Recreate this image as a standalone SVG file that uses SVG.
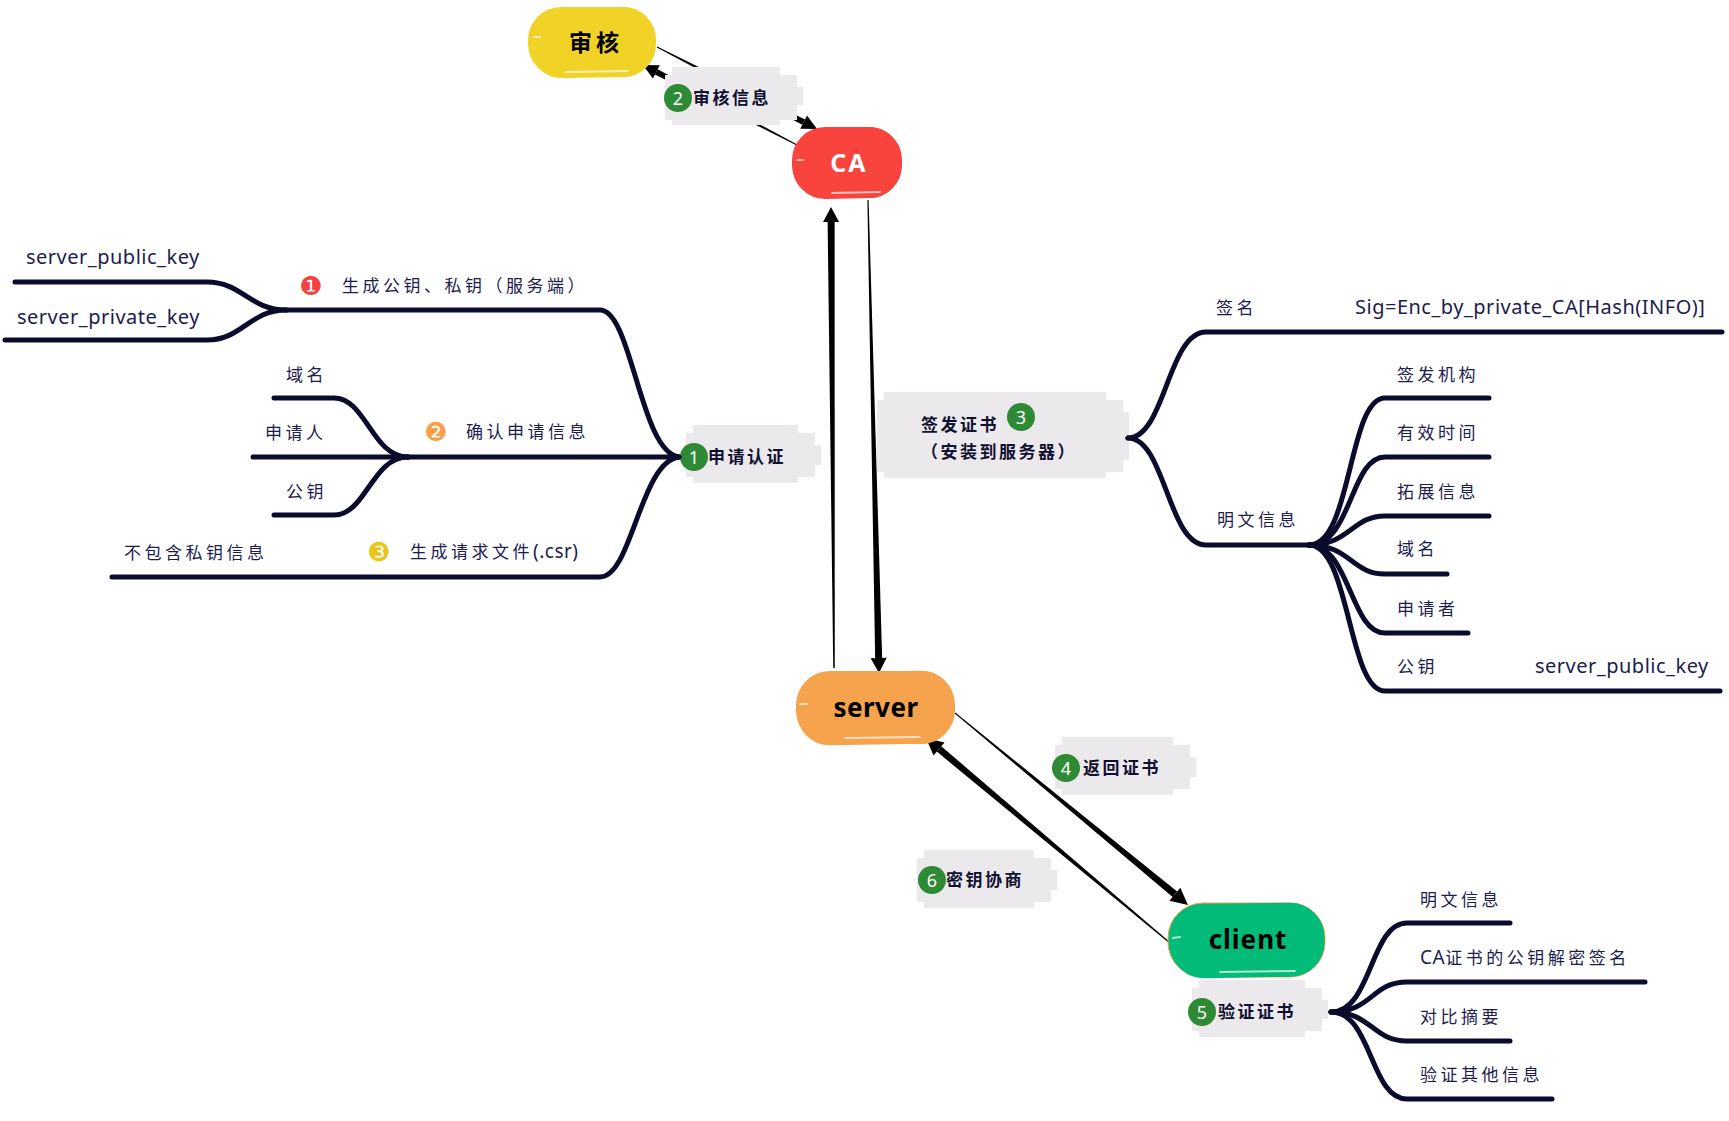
<svg xmlns="http://www.w3.org/2000/svg" width="1729" height="1121" viewBox="0 0 1729 1121">
<defs>
<style>
.mm{fill:none;stroke:#0b0b2c;stroke-width:5;stroke-linecap:round;stroke-linejoin:round}
.t{font-family:'Noto Sans','Noto Sans CJK SC',sans-serif;font-size:17px;fill:#1c1c4e;letter-spacing:3.5px}
.tl{font-family:'Noto Sans','Noto Sans CJK SC',sans-serif;font-size:20px;fill:#1c1c4e;letter-spacing:0.5px}
.lb{fill:#ebe9ec}
.lt{font-family:'Noto Sans CJK SC',sans-serif;font-size:17px;font-weight:bold;fill:#101030;letter-spacing:2.5px}
.bd{fill:#2f8a36}
.bt{font-family:'Noto Sans',sans-serif;font-size:18px;fill:#fff;text-anchor:middle}
.ar{fill:#000}
.nt{font-family:'Noto Sans','Noto Sans CJK SC',sans-serif;font-weight:bold;text-anchor:middle}
.dg{font-family:'DejaVu Sans',sans-serif;font-size:26px;text-anchor:middle}
.hl{fill:none;stroke:#fff;stroke-width:2;stroke-linecap:round;opacity:0.65}
.tight{letter-spacing:0.5px;font-size:19px}
</style>
</defs>

<g id="connectors">
<polygon class="ar" points="656.77,47.45 802.28,124.83 805.02,119.49 657.23,46.55"/>
<polygon class="ar" points="817,129 800.23,128.83 807.07,115.49"/>
<polygon class="ar" points="797.23,144.56 657.69,69.26 654.93,74.58 796.77,145.44"/>
<polygon class="ar" points="643,65 659.77,65.26 652.85,78.58"/>
<polygon class="ar" points="834.75,668 834.6,222 827.6,222 833.25,668"/>
<polygon class="ar" points="831,207 839.1,222 823.1,222"/>
<polygon class="ar" points="867.4,200 875.15,658.1 882.15,657.9 868.6,200"/>
<polygon class="ar" points="879,673 870.65,658.2 886.65,657.8"/>
<polygon class="ar" points="954.68,713.39 1172.65,896.89 1177.11,891.49 955.32,712.61"/>
<polygon class="ar" points="1188,905 1169.47,900.75 1180.29,887.63"/>
<polygon class="ar" points="1170.39,942.54 941.27,746.25 936.77,751.61 1169.61,943.46"/>
<polygon class="ar" points="926,738 944.49,742.42 933.55,755.44"/>
</g>

<g id="node-shenhe">
<rect x="528" y="7" width="128" height="70" rx="33" fill="#f0d326"/>
<rect x="531" y="9" width="123" height="67" rx="31" fill="none" stroke="#f0d326" stroke-width="3" transform="rotate(-1 592 42)"/>
<path class="hl" d="M566 72 L628 71"/>
<path class="hl" d="M534 37 L540 37"/>
<text class="nt" x="596" y="51" font-size="23" letter-spacing="4" fill="#000">审核</text>
</g>

<g id="node-ca">
<rect x="792" y="127" width="110" height="71" rx="33" fill="#f9443e"/>
<rect x="794" y="129" width="106" height="68" rx="31" fill="none" stroke="#f9443e" stroke-width="3" transform="rotate(-1 847 162)"/>
<path class="hl" d="M832 193 L880 192"/>
<path class="hl" d="M797 160 L803 160"/>
<text class="nt" x="849" y="172" font-size="25" letter-spacing="2" fill="#fff">CA</text>
</g>

<g id="node-server">
<rect x="796" y="671" width="159" height="73" rx="34" fill="#f5a34c"/>
<rect x="798" y="673" width="155" height="70" rx="32" fill="none" stroke="#f5a34c" stroke-width="3" transform="rotate(-1 875 707)"/>
<path class="hl" d="M845 738 L920 737"/>
<path class="hl" d="M800 704 L807 704"/>
<text class="nt" x="876" y="717" font-size="26" letter-spacing="0.5" fill="#000">server</text>
</g>

<g id="node-client">
<rect x="1168" y="903" width="157" height="74" rx="35" fill="#03bb78" stroke="#f5a34c" stroke-width="1"/>
<rect x="1171" y="905" width="152" height="71" rx="33" fill="none" stroke="#03bb78" stroke-width="3" transform="rotate(-1 1246 940)"/>
<path class="hl" d="M1220 972 L1295 971"/>
<path class="hl" d="M1173 938 L1180 937"/>
<text class="nt" x="1248" y="949" font-size="26" letter-spacing="1" fill="#000">client</text>
</g>

<g id="label-shenhexinxi">
<rect class="lb" x="672" y="67" width="108" height="58"/>
<rect class="lb" x="665" y="75" width="132" height="45"/>
<rect class="lb" x="668" y="87" width="135" height="18"/>
<circle class="bd" cx="678" cy="98" r="14"/>
<text class="bt" x="678" y="104.5">2</text>
<text class="lt" x="693" y="104">审核信息</text>
</g>

<g id="label-shenqingrenzheng">
<rect class="lb" x="693" y="425" width="105" height="58"/>
<rect class="lb" x="686" y="433" width="129" height="44"/>
<rect class="lb" x="689" y="445" width="132" height="20"/>
<circle class="bd" cx="694" cy="457" r="14"/>
<text class="bt" x="694" y="463.5">1</text>
<text class="lt" x="708" y="463">申请认证</text>
</g>

<g id="label-qianfazhengshu">
<rect class="lb" x="884" y="392" width="222" height="86"/>
<rect class="lb" x="877" y="400" width="246" height="72"/>
<rect class="lb" x="880" y="412" width="249" height="48"/>
<text class="lt" x="921" y="431">签发证书</text>
<circle class="bd" cx="1021" cy="417" r="14"/>
<text class="bt" x="1021" y="423.5">3</text>
<text class="lt" x="921" y="458">（安装到服务器）</text>
</g>

<g id="label-fanhuizhengshu">
<rect class="lb" x="1062" y="737" width="111" height="58"/>
<rect class="lb" x="1055" y="745" width="135" height="44"/>
<rect class="lb" x="1058" y="757" width="138" height="20"/>
<circle class="bd" cx="1066" cy="768" r="14"/>
<text class="bt" x="1066" y="774.5">4</text>
<text class="lt" x="1083" y="774">返回证书</text>
</g>

<g id="label-miyaoxieshang">
<rect class="lb" x="924" y="850" width="110" height="58"/>
<rect class="lb" x="917" y="858" width="134" height="44"/>
<rect class="lb" x="920" y="870" width="137" height="20"/>
<circle class="bd" cx="932" cy="880" r="14"/>
<text class="bt" x="932" y="886.5">6</text>
<text class="lt" x="946" y="886">密钥协商</text>
</g>

<g id="label-yanzhengzhengshu">
<rect class="lb" x="1199" y="980" width="106" height="57"/>
<rect class="lb" x="1192" y="988" width="130" height="43"/>
<rect class="lb" x="1195" y="1000" width="133" height="19"/>
<circle class="bd" cx="1202" cy="1012" r="14"/>
<text class="bt" x="1202" y="1018.5">5</text>
<text class="lt" x="1218" y="1018">验证证书</text>
</g>

<g id="tree-left">
<path class="mm" d="M679,457 C640,452 632,310 600,310 H286"/>
<path class="mm" d="M286,310 C250,310 242,282 207,282 H15"/>
<path class="mm" d="M286,310 C250,310 242,340 207,340 H5"/>
<path class="mm" d="M679,457 H408"/>
<path class="mm" d="M408,457 C372,457 366,398 334,398 H274"/>
<path class="mm" d="M408,457 H253"/>
<path class="mm" d="M408,457 C372,457 366,515 334,515 H274"/>
<path class="mm" d="M679,457 C640,462 632,577 600,577 H112"/>
<text class="tl" x="26" y="264">server_public_key</text>
<text class="tl" x="17" y="324">server_private_key</text>
<text class="dg" x="311" y="295" fill="#f2433f">❶</text>
<text class="t" x="342" y="292">生成公钥、私钥（服务端）</text>
<text class="dg" x="436" y="441" fill="#f6a04b">❷</text>
<text class="t" x="466" y="438">确认申请信息</text>
<text class="t" x="286" y="381">域名</text>
<text class="t" x="265" y="439">申请人</text>
<text class="t" x="286" y="498">公钥</text>
<text class="dg" x="379" y="561" fill="#e8c51a">❸</text>
<text class="t" x="410" y="558">生成请求文件<tspan class="tight">(.csr)</tspan></text>
<text class="t" x="124" y="559">不包含私钥信息</text>
</g>

<g id="tree-right">
<path class="mm" d="M1128,438 C1165,438 1168,332 1206,332 H1722"/>
<path class="mm" d="M1128,438 C1165,438 1168,545 1206,545 H1309"/>
<path class="mm" d="M1309,545 C1352,545 1348,398 1385,398 H1489"/>
<path class="mm" d="M1309,545 C1352,545 1350,457 1385,457 H1489"/>
<path class="mm" d="M1309,545 C1350,545 1352,516 1385,516 H1489"/>
<path class="mm" d="M1309,545 C1350,545 1352,574 1385,574 H1447"/>
<path class="mm" d="M1309,545 C1350,545 1350,633 1385,633 H1468"/>
<path class="mm" d="M1309,545 C1350,545 1348,691 1385,691 H1720"/>
<text class="t" x="1216" y="314">签名</text>
<text class="tl" x="1355" y="314">Sig=Enc_by_private_CA[Hash(INFO)]</text>
<text class="t" x="1217" y="526">明文信息</text>
<text class="t" x="1397" y="381">签发机构</text>
<text class="t" x="1397" y="439">有效时间</text>
<text class="t" x="1397" y="498">拓展信息</text>
<text class="t" x="1397" y="555">域名</text>
<text class="t" x="1397" y="615">申请者</text>
<text class="t" x="1397" y="673">公钥</text>
<text class="tl" x="1535" y="673">server_public_key</text>
</g>

<g id="tree-client">
<path class="mm" d="M1331,1012 C1372,1012 1370,923 1407,923 H1510"/>
<path class="mm" d="M1331,1012 C1372,1012 1372,982 1407,982 H1645"/>
<path class="mm" d="M1331,1012 C1372,1012 1372,1041 1407,1041 H1510"/>
<path class="mm" d="M1331,1012 C1372,1012 1370,1099 1407,1099 H1552"/>
<text class="t" x="1420" y="906">明文信息</text>
<text class="t" x="1420" y="964"><tspan class="tight">CA</tspan>证书的公钥解密签名</text>
<text class="t" x="1420" y="1023">对比摘要</text>
<text class="t" x="1420" y="1081">验证其他信息</text>
</g>
</svg>
